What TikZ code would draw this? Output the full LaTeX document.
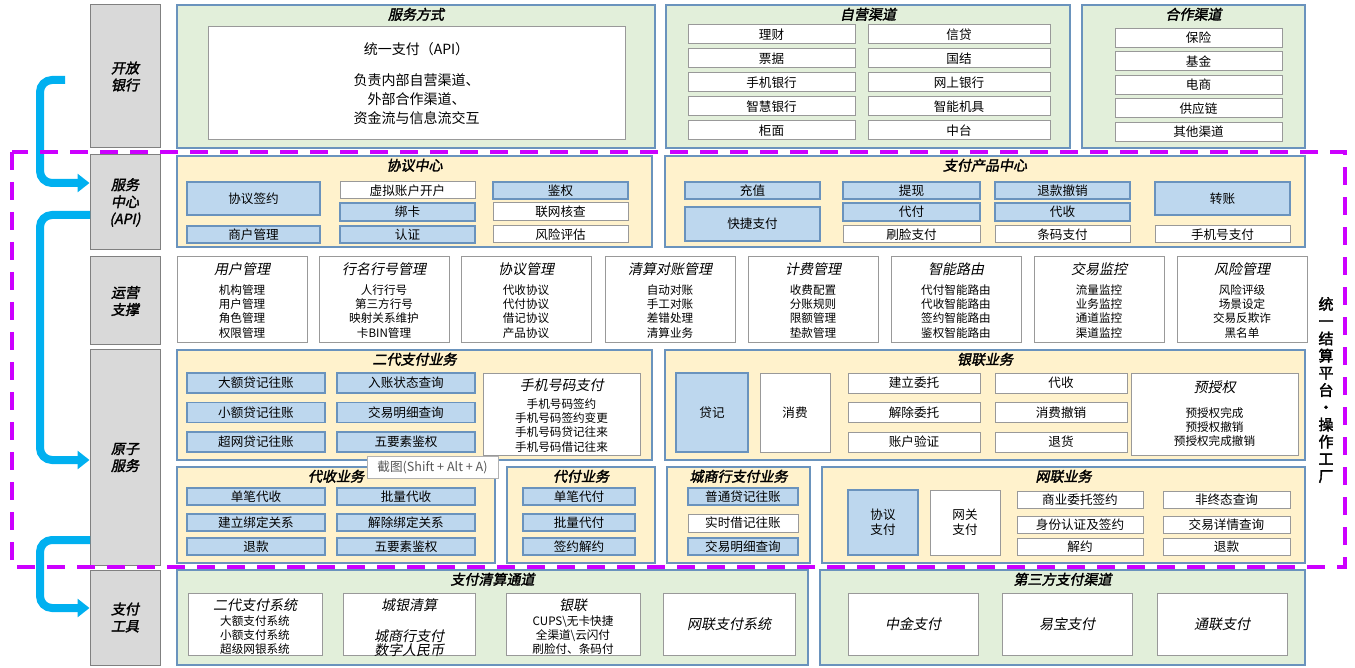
\documentclass[tikz,border=0pt]{standalone}
\usepackage{fontspec}
\setmainfont{Noto Sans CJK SC}[AutoFakeSlant=0.2,AutoFakeBold=2]
\usetikzlibrary{arrows.meta}
\definecolor{ylw}{HTML}{FFF2CC}
\definecolor{grn}{HTML}{E2EFDA}
\definecolor{blu}{HTML}{BDD7EE}
\definecolor{bdr}{HTML}{6A93BD}
\definecolor{cyn}{HTML}{00B0F0}
\definecolor{mag}{HTML}{CC00FF}
% box from pixel corners
\newcommand\bx[7]{\node[#1,minimum width={(#5-(#3))*0.5pt},minimum height={(#6-(#4))*0.5pt}] (#2) at ({((#3)+(#5))/2},{((#4)+(#6))/2}) {#7};}
\tikzset{
  frame/.style={draw=bdr,line width=0.6pt,inner sep=0pt},
  yel/.style={frame,fill=ylw},
  gre/.style={frame,fill=grn},
  itm/.style={frame,fill=blu,align=center,font=\fontsize{6.3}{7.5}\selectfont},
  wht/.style={draw=gray!80,line width=0.5pt,fill=white,inner sep=0pt,align=center,font=\fontsize{6.3}{7.5}\selectfont},
  side/.style={draw=gray,fill=gray!30,line width=0.5pt,inner sep=0pt,align=center,font=\fontsize{7}{8.5}\selectfont\bfseries\itshape},
  ttl/.style={anchor=north,inner sep=0.5pt,yshift=-1pt,font=\fontsize{7}{8}\selectfont\bfseries\itshape},
  lst/.style={anchor=north,inner sep=1pt,yshift=-2pt,align=center,font=\fontsize{5.8}{7.2}\selectfont},
  flow/.style={cyn,line width=4pt,rounded corners=6pt,-{Triangle[length=6pt,width=9pt]}}
}
\begin{document}
\begin{tikzpicture}[x=0.5pt,y=-0.5pt]
\useasboundingbox (0,0) rectangle (1355,668);

% side labels
\bx{side}{kfyh}{90}{5}{160}{148}{开放\\银行}
\bx{side}{fwzx}{90}{155}{160}{250}{服务\\中心\\(API)}
\bx{side}{yyzc}{90}{257}{160}{345}{运营\\支撑}
\bx{side}{yzfw}{90}{350}{160}{565}{原子\\服务}
\bx{side}{zfgj}{90}{570}{160}{665}{支付\\工具}

% flows
\coordinate (f1) at (65,80);
\coordinate (f2) at (90,215);
\coordinate (f3) at (90,540);
\draw[flow] (f1) -- (40,80) -- (40,183) -- (fwzx.west|-0,183);
\draw[flow] (f2) -- (40,215) -- (40,460) -- (yzfw.west|-0,460);
\draw[flow] (f3) -- (40,540) -- (40,608) -- (zfgj.west|-0,608);

% open banking row
\bx{gre,label={[ttl]north:服务方式}}{fwfs}{177}{5}{655}{148}{}
\bx{wht,font=\fontsize{7}{9.5}\selectfont}{tyzf}{208}{27}{625}{140}{统一支付（API）\\[6pt]负责内部自营渠道、\\外部合作渠道、\\资金流与信息流交互}
\bx{gre,label={[ttl]north:自营渠道}}{zyqd}{666}{5}{1070}{148}{}
\foreach \a/\b [count=\i] in {理财/信贷,票据/国结,手机银行/网上银行,智慧银行/智能机具,柜面/中台}{
  \bx{wht}{zya\i}{688}{1+24*\i}{855}{20+24*\i}{\a}
  \bx{wht}{zyb\i}{868}{1+24*\i}{1050}{20+24*\i}{\b}
}
\bx{gre,label={[ttl]north:合作渠道}}{hzqd}{1082}{5}{1305}{148}{}
\foreach \a [count=\i] in {保险,基金,电商,供应链,其他渠道}{
  \bx{wht}{hz\i}{1115}{5+23.5*\i}{1282}{24+23.5*\i}{\a}
}

% settlement platform frame
\draw[mag,line width=1.6pt,dash pattern=on 9pt off 6pt] (12,152) rectangle (1345,567);
\node[align=center,font=\fontsize{7.5}{8.6}\selectfont\bfseries] (tyjs) at (1326,390) {统\\一\\结\\算\\平\\台\\·\\操\\作\\工\\厂};

% service centre
\bx{yel,label={[ttl]north:协议中心}}{xyzx}{177}{156}{652}{247}{}
\bx{itm}{xyqy}{187}{182}{320}{215}{协议签约}
\bx{itm}{shgl}{187}{226}{320}{243}{商户管理}
\bx{wht}{xnzh}{340}{182}{475}{199}{虚拟账户开户}
\bx{itm}{bk}{340}{203}{475}{221}{绑卡}
\bx{itm}{rz}{340}{226}{475}{243}{认证}
\bx{itm}{jq}{493}{182}{628}{199}{鉴权}
\bx{wht}{lwhc}{493}{203}{628}{221}{联网核查}
\bx{wht}{fxpg}{493}{226}{628}{243}{风险评估}

\bx{yel,label={[ttl]north:支付产品中心}}{zfcp}{665}{156}{1305}{247}{}
\bx{itm}{cz}{685}{182}{820}{199}{充值}
\bx{itm}{kjzf}{685}{207}{820}{241}{快捷支付}
\bx{itm}{tx}{843}{182}{980}{199}{提现}
\bx{itm}{df}{843}{203}{980}{221}{代付}
\bx{wht}{slzf}{843}{226}{980}{243}{刷脸支付}
\bx{itm}{tkcx}{995}{182}{1130}{199}{退款撤销}
\bx{itm}{ds}{995}{203}{1130}{221}{代收}
\bx{wht}{tmzf}{995}{226}{1130}{243}{条码支付}
\bx{itm}{zz}{1155}{182}{1290}{215}{转账}
\bx{wht}{sjhzf}{1155}{226}{1290}{243}{手机号支付}

% operations row
\foreach \x/\t/\l [count=\i] in {
  177/用户管理/{机构管理\\用户管理\\角色管理\\权限管理},
  319/行名行号管理/{人行行号\\第三方行号\\映射关系维护\\卡BIN管理},
  461/协议管理/{代收协议\\代付协议\\借记协议\\产品协议},
  605/清算对账管理/{自动对账\\手工对账\\差错处理\\清算业务},
  748/计费管理/{收费配置\\分账规则\\限额管理\\垫款管理},
  891/智能路由/{代付智能路由\\代收智能路由\\签约智能路由\\鉴权智能路由},
  1034/交易监控/{流量监控\\业务监控\\通道监控\\渠道监控},
  1177/风险管理/{风险评级\\场景设定\\交易反欺诈\\黑名单}}{
  \bx{wht,label={[lst]north:{{\fontsize{7}{9.5}\selectfont\itshape\t}\\[2.5pt]\l}}}{yy\i}{\x}{257}{\x+130}{343}{}
}

% atomic services
\bx{yel,label={[ttl]north:二代支付业务}}{edzf}{177}{350}{652}{460}{}
\foreach \a/\b [count=\i] in {大额贷记往账/入账状态查询,小额贷记往账/交易明细查询,超网贷记往账/五要素鉴权}{
  \bx{itm}{eda\i}{187}{343.5+29.5*\i}{325}{363.5+29.5*\i}{\a}
  \bx{itm}{edb\i}{337}{343.5+29.5*\i}{475}{363.5+29.5*\i}{\b}
}
\bx{wht,label={[lst]north:{{\fontsize{7}{9.5}\selectfont\itshape 手机号码支付}\\[1.5pt]手机号码签约\\手机号码签约变更\\手机号码贷记往来\\手机号码借记往来}}}{sjhm}{483}{373}{640}{455}{}

\bx{yel,label={[ttl]north:银联业务}}{ylyw}{665}{350}{1305}{460}{}
\bx{itm}{dj}{676}{373}{748}{452}{贷记}
\bx{wht}{xf}{760}{373}{830}{452}{消费}
\foreach \a/\b [count=\i] in {建立委托/代收,解除委托/消费撤销,账户验证/退货}{
  \bx{wht}{yla\i}{848}{343.5+29.5*\i}{980}{363.5+29.5*\i}{\a}
  \bx{wht}{ylb\i}{995}{343.5+29.5*\i}{1127}{363.5+29.5*\i}{\b}
}
\bx{wht,label={[lst,yshift=-1pt]north:{{\fontsize{7}{9.5}\selectfont\itshape 预授权}\\[5pt]预授权完成\\预授权撤销\\预授权完成撤销}}}{ysq}{1131}{373}{1298}{455}{}

\bx{yel,label={[ttl]north:代收业务}}{dsyw}{177}{467}{495}{563}{}
\foreach \a/\b/\y [count=\i] in {单笔代收/批量代收/488,建立绑定关系/解除绑定关系/514,退款/五要素鉴权/538}{
  \bx{itm}{dsa\i}{187}{\y}{325}{\y+17}{\a}
  \bx{itm}{dsb\i}{337}{\y}{475}{\y+17}{\b}
}
\bx{yel,label={[ttl]north:代付业务}}{dfyw}{507}{467}{655}{563}{}
\foreach \a/\y [count=\i] in {单笔代付/488,批量代付/514,签约解约/538}{
  \bx{itm}{dfa\i}{523}{\y}{635}{\y+17}{\a}
}
\bx{yel,label={[ttl]north:城商行支付业务}}{csh}{667}{467}{810}{563}{}
\bx{itm}{cs1}{688}{488}{798}{505}{普通贷记往账}
\bx{wht}{cs2}{688}{514}{798}{532}{实时借记往账}
\bx{itm}{cs3}{688}{538}{798}{555}{交易明细查询}

\bx{yel,label={[ttl]north:网联业务}}{wlyw}{822}{467}{1305}{563}{}
\bx{itm}{xyzf}{848}{490}{918}{555}{协议\\支付}
\bx{wht}{wgzf}{930}{490}{1000}{555}{网关\\支付}
\foreach \a/\b/\y [count=\i] in {商业委托签约/非终态查询/491,身份认证及签约/交易详情查询/516,解约/退款/538}{
  \bx{wht}{wla\i}{1017}{\y}{1143}{\y+17}{\a}
  \bx{wht}{wlb\i}{1163}{\y}{1290}{\y+17}{\b}
}

% tooltip
\bx{wht,draw=gray!60,text=gray!70!black}{jt}{367}{456}{498}{478}{截图(Shift + Alt + A)}

% payment tools
\bx{gre,label={[ttl]north:支付清算通道}}{qstd}{177}{570}{808}{665}{}
\bx{wht,label={[lst]north:{{\fontsize{7}{9.5}\selectfont\itshape 二代支付系统}\\大额支付系统\\小额支付系统\\超级网银系统}}}{edxt}{188}{593}{322}{655}{}
\bx{wht,label={[lst]north:{{\fontsize{7}{9.5}\selectfont\itshape 城银清算}\\[8pt]{\fontsize{7}{9}\selectfont\itshape 城商行支付}\\{\fontsize{7}{9}\selectfont\itshape 数字人民币}}}}{cyqs}{343}{593}{475}{655}{}
\bx{wht,label={[lst]north:{{\fontsize{7}{9.5}\selectfont\itshape 银联}\\CUPS\textbackslash 无卡快捷\\全渠道\textbackslash 云闪付\\刷脸付、条码付}}}{yl}{506}{593}{640}{655}{}
\bx{wht,font=\fontsize{7}{8}\selectfont\itshape}{wlxt}{663}{593}{795}{655}{网联支付系统}
\bx{gre,label={[ttl]north:第三方支付渠道}}{dsf}{820}{570}{1305}{665}{}
\foreach \a/\x [count=\i] in {中金支付/848,易宝支付/1002,通联支付/1157}{
  \bx{wht,font=\fontsize{7}{8}\selectfont\itshape}{sf\i}{\x}{593}{\x+130}{655}{\a}
}
\end{tikzpicture}
\end{document}
